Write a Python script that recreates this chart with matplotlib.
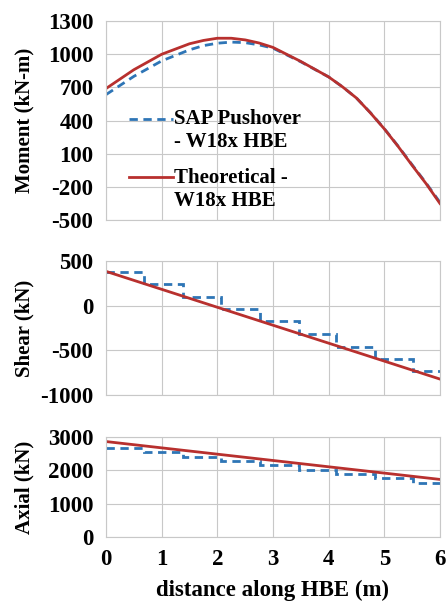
import numpy as np
import matplotlib.pyplot as plt
from matplotlib.legend_handler import HandlerLine2D

plt.rcParams["font.family"] = ["Liberation Serif", "DejaVu Serif"]
plt.rcParams["font.weight"] = "bold"
plt.rcParams["axes.unicode_minus"] = False

# ---------------------------------------------------------
# data
# ---------------------------------------------------------
x_m = [0, 0.5, 1, 1.5, 1.75, 2, 2.25, 2.5, 2.75, 3, 3.5, 4,
       4.25, 4.5, 4.75, 5, 5.25, 5.5, 5.75, 6]
moment_theory = [690, 860, 1000, 1095, 1125, 1145, 1145, 1130, 1102, 1062,
                 935, 795, 705, 604, 470, 325, 165, -5, -170, -350]
moment_sap = [635, 800, 940, 1040, 1078, 1100, 1110, 1105, 1085, 1055,
              932, 795, 705, 604, 472, 327, 168, 0, -165, -340]

# SAP results are piecewise constant per element
seg_edges = [0, 0.68, 1.38, 2.06, 2.77, 3.46, 4.14, 4.83, 5.52, 6.0]
shear_sap = [377, 247, 100, -40, -174, -322, -464, -602, -732]
axial_sap = [2660, 2540, 2400, 2275, 2150, 2020, 1890, 1760, 1620]

x_lin = [0, 6]
shear_theory = [385, -822]
axial_theory = [2860, 1725]

blue = "#2E75B6"
red = "#B8302E"
dash = (0, (3, 2))


# legend line sits at the first text line, like Excel
class TopLine(HandlerLine2D):
    def create_artists(self, legend, orig_handle, xdescent, ydescent,
                       width, height, fontsize, trans):
        return super().create_artists(legend, orig_handle, xdescent,
                                      ydescent - 1.15 * fontsize, width, height,
                                      fontsize, trans)


fig = plt.figure(figsize=(4.48, 6.03), dpi=100)
L, W = 0.2366, 0.7455
ax1 = fig.add_axes([L, 0.635, W, 0.330])
ax2 = fig.add_axes([L, 0.345, W, 0.222])
ax3 = fig.add_axes([L, 0.1095, W, 0.166])

# moment
ax1.plot(x_m, moment_sap, color=blue, lw=2, linestyle=dash,
         label="SAP Pushover\n- W18x HBE")
ax1.plot(x_m, moment_theory, color=red, lw=2,
         label="Theoretical -\nW18x HBE")
ax1.set_ylim(-500, 1300)
ax1.set_yticks(np.arange(-500, 1301, 300))
ax1.set_ylabel("Moment (kN-m)", fontsize=15, fontweight="bold")
ax1.legend(loc="upper left", bbox_to_anchor=(0.045, 0.60), frameon=False,
           fontsize=15, handlelength=2.1, handletextpad=0.05,
           labelspacing=0.75, borderaxespad=0,
           handler_map={plt.Line2D: TopLine()})

# shear
ax2.stairs(shear_sap, seg_edges, baseline=None, color=blue, lw=2, linestyle=dash)
ax2.plot(x_lin, shear_theory, color=red, lw=2)
ax2.set_ylim(-1000, 500)
ax2.set_yticks([-1000, -500, 0, 500])
ax2.set_ylabel("Shear (kN)", fontsize=15, fontweight="bold")

# axial
ax3.stairs(axial_sap, seg_edges, baseline=None, color=blue, lw=2, linestyle=dash)
ax3.plot(x_lin, axial_theory, color=red, lw=2)
ax3.set_ylim(0, 3000)
ax3.set_yticks([0, 1000, 2000, 3000])
ax3.set_ylabel("Axial (kN)", fontsize=15, fontweight="bold")
ax3.set_xlabel("distance along HBE (m)", fontsize=16.5, fontweight="bold", labelpad=7)

for ax in (ax1, ax2, ax3):
    ax.set_xlim(0, 6)
    ax.set_xticks(range(0, 7))
    ax.grid(True, color="#C8C8C8", lw=0.8)
    ax.set_axisbelow(True)
    for s in ax.spines.values():
        s.set_color("#C8C8C8")
        s.set_linewidth(0.8)
    ax.tick_params(length=0, labelsize=16.5, pad=9)
    for t in ax.get_yticklabels() + ax.get_xticklabels():
        t.set_fontweight("bold")
    ax.yaxis.set_label_coords(-0.215, 0.5)

ax1.tick_params(labelbottom=False)
ax2.tick_params(labelbottom=False)

fig.savefig("out.png", dpi=100)
